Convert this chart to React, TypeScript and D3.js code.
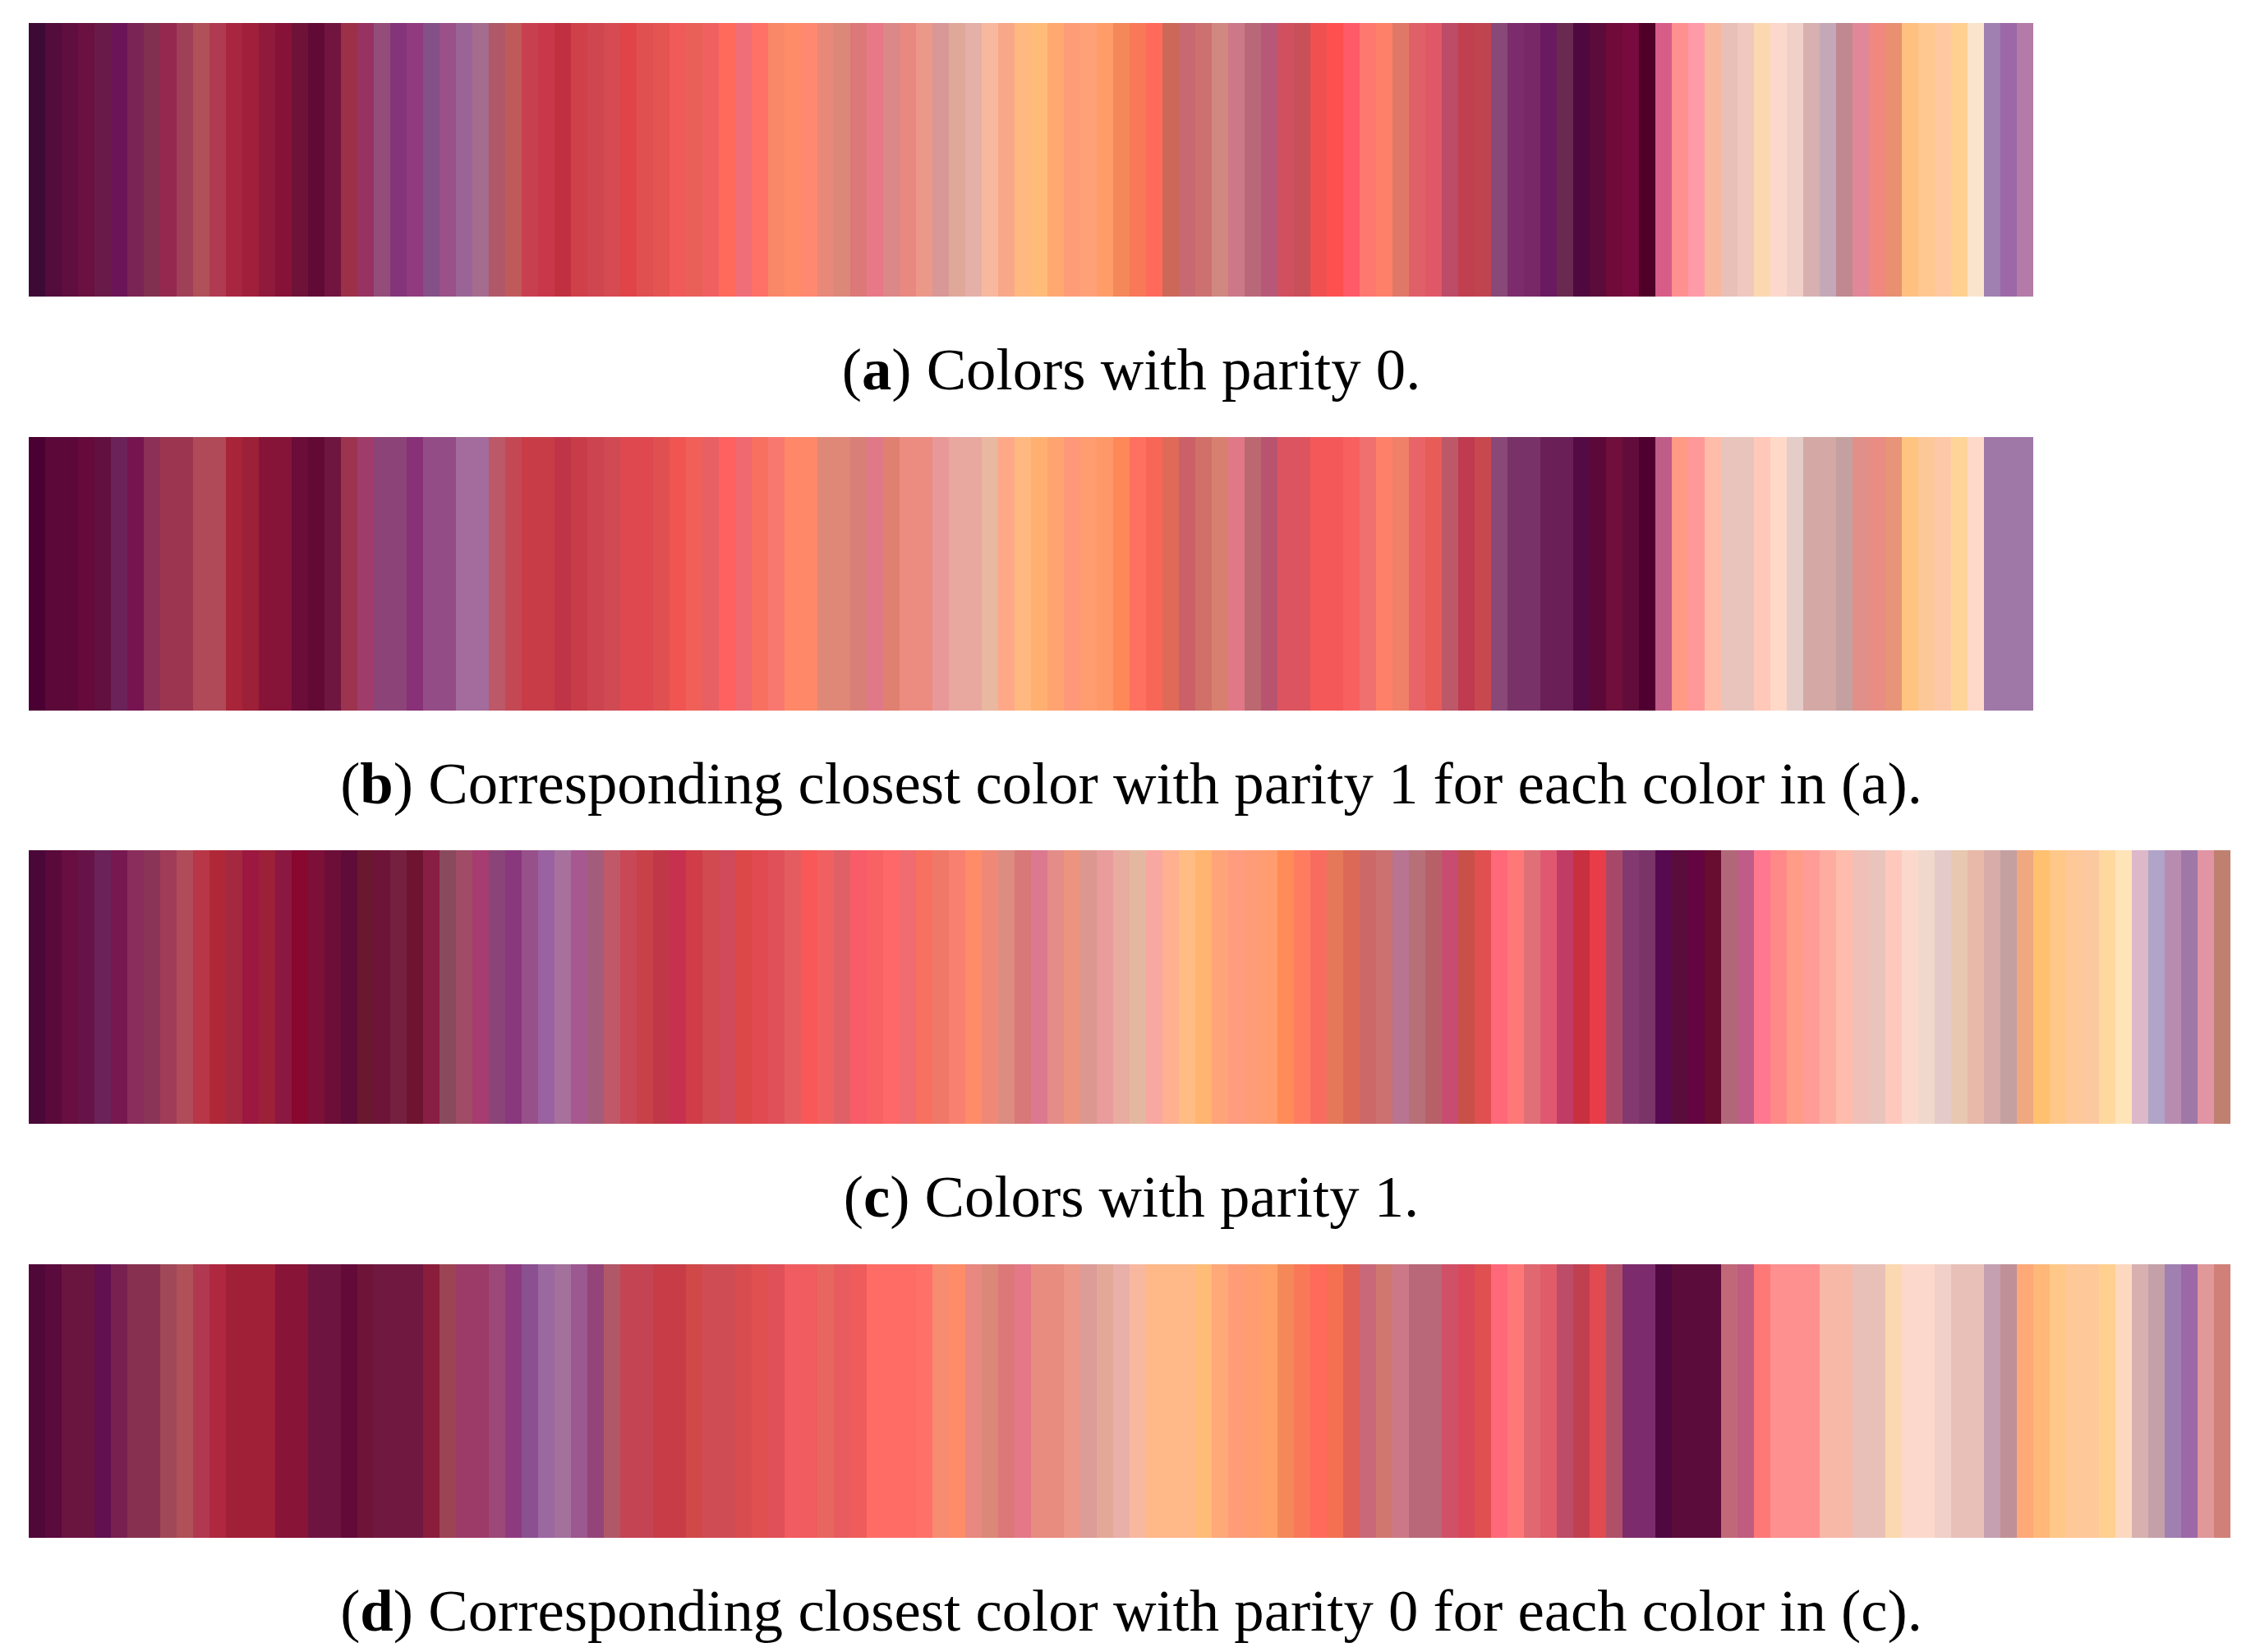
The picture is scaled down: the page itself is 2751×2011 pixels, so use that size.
import React from 'react';
import * as d3 from 'd3';

// (a) Colors with parity 0
const parity0: string[] = [
  '#3d0a35','#530c3c','#600d40','#6a1142','#6a1a48','#6b1558','#7a2355','#823050','#94284f','#9f4058',
  '#b05058','#b03a52','#a92640','#a01f3a','#901a3c','#871238','#6e1238','#620a36','#711540','#9c3048',
  '#973262','#944d7a','#84357a','#913a80','#845088','#9a5088','#9a6496','#a56c8e','#b05868','#c05a5a',
  '#c84050','#c8384a','#c03040','#d04048','#d04650','#d64a52','#e04448','#e05050','#e45450','#f05a58',
  '#e86058','#f06060','#ff6a5a','#f06e78','#ff7066','#f88868','#ff8c68','#ff8870','#e88878','#dc8878',
  '#dc7878','#e87888','#dc8888','#e88880','#ec9888','#d89898','#e0a898','#e4b0a8','#f8b8a0','#f8a888',
  '#ffb880','#ffbc78','#ffa870','#ff9c78','#ffa078','#ff9c68','#f48858','#f87858','#ff6a5a','#cc6858',
  '#c86870','#cc7070','#d08880','#cc7888','#b86878','#b85878','#d05060','#c85058','#f05050','#ff5050',
  '#ff5a68','#ff7870','#ff8068','#e07868','#e06068','#e05868','#bc4c68','#c04050','#c04450','#884878',
  '#7c2c6c','#782866','#6a1a60','#6a2a50','#500840','#5c0c3a','#700a38','#780a40','#500028','#d85c88',
  '#ff9090','#ff9aa8','#f8b8a0','#e8c0b8','#f0c8c0','#fcd8b0','#fcd8cc','#f0d0c8','#d8b0b0','#c4a8b8',
  '#c08890','#e08898','#f08880','#e89070','#ffc080','#ffc890','#ffc8a0','#ffd090','#fae4cc','#a080b0',
  '#9c68a8','#b47aa8'
];

// (b) Closest color with parity 1 for each color in (a)
const closestParity1: string[] = [
  '#4a0032','#5c0838','#5c0838','#650a3a','#621040','#6a2258','#761450','#8c3058','#9c3650','#9c3650',
  '#b04a58','#b04a58','#a82438','#9c2038','#861438','#861438','#6c0c38','#620a34','#6e1640','#9c3450',
  '#a03c6a','#8c4478','#8c4478','#883078','#944c86','#944c86','#a46c9c','#a46c9c','#bc5868','#c44854',
  '#c83c48','#c83c48','#c03448','#c83c48','#cc4450','#d04a54','#e04850','#e04850','#e05050','#f05552',
  '#f06058','#e86064','#ff6060','#f06870','#f87060','#f87870','#ff8868','#ff8868','#e08878','#e08878',
  '#d88078','#e07888','#e08070','#ec8c80','#ec8c80','#e89898','#e8a8a0','#e8a8a0','#e8b8a0','#ffa888',
  '#ffb880','#ffb070','#ffa470','#ff9878','#ff9c70','#ff9868','#ff8858','#ff7060','#f86658','#e06a58',
  '#cc6068','#d07068','#d88070','#e07888','#bc6870','#b85470','#dc5460','#dc5460','#f45858','#f45858',
  '#f86060','#f07070','#ff8068','#f08068','#e86468','#e85c58','#bc5868','#c03a50','#c84850','#8a4878',
  '#783268','#783268','#6a2056','#6a2056','#540a44','#5c0838','#700e3c','#620c3c','#500030','#c05c88',
  '#ff9a84','#ff9898','#ffbca8','#e8c4bc','#e8c4bc','#ffc8b8','#ffd8c8','#e4ccc8','#d4a8a4','#d4a8a4',
  '#c4a0a0','#e09088','#e88c84','#e89478','#ffc480','#fcc898','#fcc8a8','#ffd498','#fed8c8','#a078a8',
  '#a078a8','#a078a8'
];

// (c) Colors with parity 1
const parity1: string[] = [
  '#4a0838','#5a0a3a','#680e40','#661448','#6a2258','#781850','#8a2c5c','#8a3458','#a03c58','#b04c5a',
  '#b83648','#b02838','#a42840','#9c1840','#9c2038','#8a1840','#880830','#7c1038','#6c0e38','#600c38',
  '#6a1830','#6e1438','#762040','#6e1430','#881e44','#8a4a5e','#a04c66','#a63c70','#8a4478','#8a387e',
  '#98508a','#9a62a0','#a8709c','#a85890','#a45c7c','#c05868','#c84858','#c84048','#c03848','#c83050',
  '#d03c48','#d04a50','#d04a5c','#dc4848','#e04a50','#e05058','#e45c60','#f85858','#f06060','#e06068',
  '#f85c68','#f86264','#ff6868','#f06c70','#f87060','#f07868','#f88070','#ff8c68','#f08878','#dc8c80',
  '#d87878','#dc7890','#e48c88','#ec9480','#dc9890','#e89c9c','#e8aca0','#e4b8a0','#f8a8a0','#ffb090',
  '#ffbc84','#ffb470','#ffa478','#ff9c80','#ff9c78','#ff9c70','#ff8c58','#ff7c60','#f86c60','#e47858',
  '#dc6858','#cc6868','#cc7070','#b87490','#b87078','#b86068','#c84c70','#c85048','#e05050','#ff6878',
  '#ff7878','#e07078','#e05870','#c03c64','#c83040','#e83c48','#a84868','#843870','#7a3468','#580a50',
  '#5a0c3c','#640440','#680c30','#b06878','#c05c88','#ff7890','#ff8888','#ff9c88','#ff9c98','#ffaca0',
  '#ffbcac','#f0c0b8','#e8c4bc','#ffc8bc','#fcd8cc','#f0d8cc','#e4cac8','#e8c8b0','#e8b8a8','#d8aca8',
  '#c4a0a0','#f0a880','#ffc070','#ffc888','#ffc898','#fcc8a0','#ffd8a0','#ffe4b8','#dcb8c8','#b0a4c8',
  '#b88cb0','#a078a8','#e094a4','#c08070'
];

// (d) Closest color with parity 0 for each color in (c)
const closestParity0: string[] = [
  '#500838','#5a0a3c','#6a1440','#6a1440','#621050','#782050','#883050','#883050','#a04858','#b05058',
  '#b03850','#b02840','#a02038','#a02038','#a02038','#881438','#881438','#6e1440','#6e1440','#640a38',
  '#6e1438','#701840','#701840','#701840','#8a1c3c','#9c4454','#9c3a68','#9c3a68','#9c4878','#8e3a80',
  '#8a5090','#9c68a0','#a4709c','#9c5890','#944478','#b05868','#c44454','#c44454','#c83c48','#c83c48',
  '#d04848','#d04c54','#d04c54','#d84c50','#e05050','#e05058','#f05c60','#f05c60','#e86660','#e85c60',
  '#f05c5c','#ff6c66','#ff6c66','#ff6c66','#ff7068','#f88c70','#ff8c68','#e88880','#dc8878','#dc7878',
  '#e47888','#e88c80','#e88c80','#ec9888','#dc9c98','#e4a898','#e8b0a8','#f8b8a0','#ffb888','#ffb888',
  '#ffb888','#ffbc78','#ffa878','#ff9c78','#ff9c70','#ffa068','#f48858','#f87858','#ff6a5a','#f47050',
  '#e06058','#c86878','#d07870','#cc7888','#b86878','#b86878','#d05068','#d84858','#e05050','#ff6878',
  '#ff7878','#e06870','#e05c68','#bc4c68','#c04050','#e04a50','#b05068','#7c2c6c','#7c2c6c','#500840',
  '#5c0c3a','#5c0c3a','#5c0c3a','#c06878','#c05c80','#ff7878','#ff9090','#ff9090','#ff9090','#f8b8a8',
  '#f8b8a8','#e8c0b8','#e8c0b8','#fcd8b0','#fcd8cc','#fcd8cc','#f0d0c8','#e8c0b8','#e8c0b8','#c4a0b0',
  '#c09098','#ffa878','#ffb878','#ffc888','#ffc898','#ffc898','#ffd090','#fcd8c0','#d8b0b0','#c4a0a8',
  '#a080b0','#9c68a8','#e09898','#d08078'
];

const panelLabels = ['a', 'b', 'c', 'd'];
const panelTexts = [
  ' Colors with parity 0.',
  ' Corresponding closest color with parity 1 for each color in (a).',
  ' Colors with parity 1.',
  ' Corresponding closest color with parity 0 for each color in (c).',
];
const panelColors = [parity0, closestParity1, parity1, closestParity0];

export default function App() {
  const stripeW = 20;
  const left = 35;
  const stripH = 333;
  const rowTop = d3.scaleLinear().domain([0, 3]).range([28, 28 + 3 * 503.6]);
  const captionX = 1377;
  return (
    <svg
      width={2751}
      height={2011}
      style={{ position: 'absolute', left: 0, top: 0, background: '#ffffff' }}
    >
      {panelColors.map((colors, k) => {
        const x = d3
          .scaleBand<number>()
          .domain(d3.range(colors.length))
          .range([left, left + stripeW * colors.length]);
        const top = Math.round(rowTop(k));
        return (
          <g key={k}>
            {colors.map((c, i) => (
              <rect
                key={i}
                x={x(i)}
                y={top}
                width={x.bandwidth()}
                height={stripH}
                fill={c}
                shapeRendering="crispEdges"
              />
            ))}
            <text
              x={captionX}
              y={top + 446}
              textAnchor="middle"
              fontFamily="'Liberation Serif', 'Times New Roman', serif"
              fontSize={72.7}
              fill="#000"
            >
              (<tspan fontWeight="bold">{panelLabels[k]}</tspan>){panelTexts[k]}
            </text>
          </g>
        );
      })}
    </svg>
  );
}
